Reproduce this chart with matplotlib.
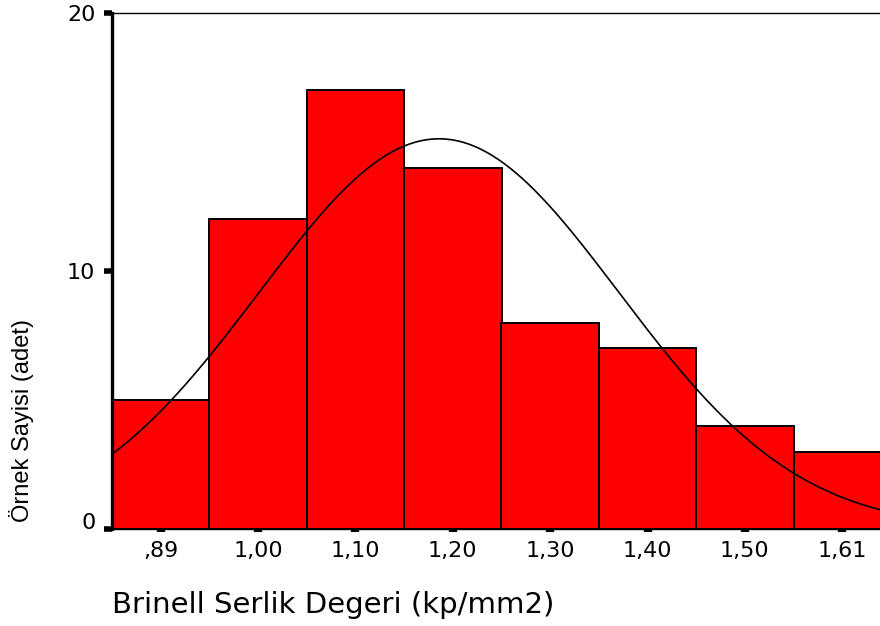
import numpy as np
import matplotlib
matplotlib.use("Agg")
import matplotlib.pyplot as plt
from matplotlib.transforms import ScaledTranslation

# Histogram of Brinell hardness values
bin_centers = [0.89, 0.9929, 1.0957, 1.1986, 1.3014, 1.4043, 1.5071, 1.61]
bin_labels = [",89", "1,00", "1,10", "1,20", "1,30", "1,40", "1,50", "1,61"]
counts = [5, 12, 17, 14, 8, 7, 4, 3]
bin_width = 0.1029

# Fitted normal curve parameters
mean_val = 1.184
sd_val = 0.190
n_total = sum(counts)

y_ticks = [0, 10, 20]
x_title = "Brinell Serlik Degeri (kp/mm2)"
y_title = "Örnek Sayisi (adet)"

fig = plt.figure(figsize=(8.8, 6.26), dpi=100)
ax = fig.add_axes([112 / 880, 1 - 529 / 626, 1 - 112 / 880, (529 - 13) / 626])

ax.bar(bin_centers, counts, width=bin_width, color="#ff0000",
       edgecolor="black", linewidth=1.4, zorder=2)

xs = np.linspace(bin_centers[0] - bin_width / 2, 1.70, 400)
pdf = n_total * bin_width / (sd_val * np.sqrt(2 * np.pi)) * np.exp(-0.5 * ((xs - mean_val) / sd_val) ** 2)
ax.plot(xs, pdf, color="black", linewidth=1.2, zorder=3)

left = bin_centers[0] - bin_width / 2
ax.set_xlim(left, left + bin_width * 768 / 97.4)
ax.set_ylim(0, 20)

ax.spines["left"].set_linewidth(2.4)
ax.spines["top"].set_linewidth(1.0)
ax.spines["right"].set_visible(False)
ax.spines["bottom"].set_linewidth(1.0)

ax.set_xticks(bin_centers, bin_labels)
ax.set_yticks(y_ticks, [str(v) for v in y_ticks])

for lab in ax.get_xticklabels() + ax.get_yticklabels():
    lab.set_fontfamily("DejaVu Sans")
    lab.set_fontsize(16)

ax.tick_params(axis="x", direction="out", length=2.5, width=6, pad=6, colors="black")
ax.tick_params(axis="y", direction="out", length=6, width=4, pad=6, colors="black")

# raise the zero label slightly
zero_lab = ax.get_yticklabels()[0]
zero_lab.set_transform(zero_lab.get_transform() + ScaledTranslation(0, 8 / 100, fig.dpi_scale_trans))

fig.text(112 / 880, 1 - 605 / 626, x_title, ha="left", va="center",
         family="DejaVu Sans", fontsize=21)
fig.text(22 / 880, 1 - 421 / 626, y_title, ha="center", va="center",
         rotation=90, family="Liberation Sans", fontsize=17)

fig.savefig("out.png", dpi=100)
